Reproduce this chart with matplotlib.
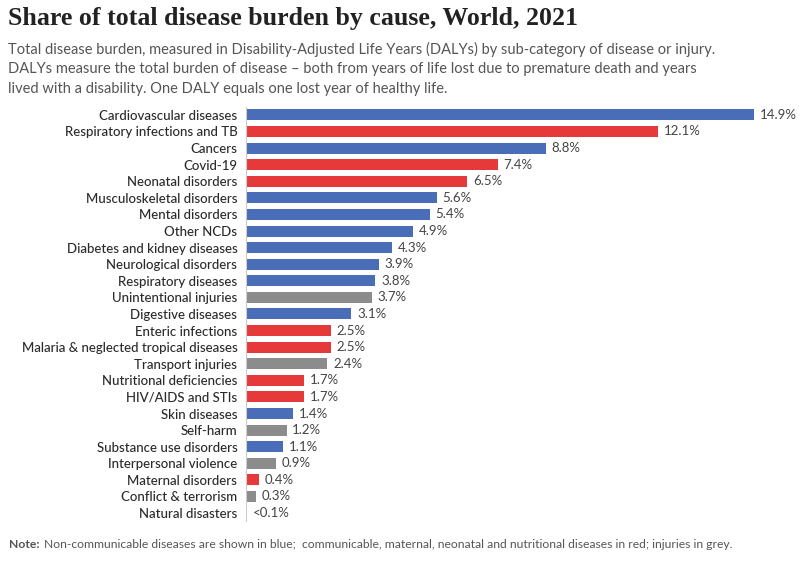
import matplotlib
matplotlib.use("Agg")
import matplotlib.pyplot as plt

causes = ["Cardiovascular diseases", "Respiratory infections and TB", "Cancers", "Covid-19",
          "Neonatal disorders", "Musculoskeletal disorders", "Mental disorders", "Other NCDs",
          "Diabetes and kidney diseases", "Neurological disorders", "Respiratory diseases",
          "Unintentional injuries", "Digestive diseases", "Enteric infections",
          "Malaria & neglected tropical diseases", "Transport injuries", "Nutritional deficiencies",
          "HIV/AIDS and STIs", "Skin diseases", "Self-harm", "Substance use disorders",
          "Interpersonal violence", "Maternal disorders", "Conflict & terrorism", "Natural disasters"]
shares = [14.9, 12.1, 8.8, 7.4, 6.5, 5.6, 5.4, 4.9, 4.3, 3.9, 3.8, 3.7, 3.1, 2.5, 2.5, 2.4,
          1.7, 1.7, 1.4, 1.2, 1.1, 0.9, 0.4, 0.3, 0.03]
labels = ["14.9%", "12.1%", "8.8%", "7.4%", "6.5%", "5.6%", "5.4%", "4.9%", "4.3%", "3.9%",
          "3.8%", "3.7%", "3.1%", "2.5%", "2.5%", "2.4%", "1.7%", "1.7%", "1.4%", "1.2%",
          "1.1%", "0.9%", "0.4%", "0.3%", "<0.1%"]
groups = ["ncd", "comm", "ncd", "comm", "comm", "ncd", "ncd", "ncd", "ncd", "ncd", "ncd", "inj",
          "ncd", "comm", "comm", "inj", "comm", "comm", "ncd", "inj", "ncd", "inj", "comm", "inj", "inj"]
palette = {"ncd": "#4A6DB8", "comm": "#E5393A", "inj": "#8C8C8C"}

plt.rcParams['font.family'] = ['Lato', 'DejaVu Sans']

fig = plt.figure(figsize=(8, 5.65), dpi=100)
ax = fig.add_axes([0.307, 0.0773, 0.693, 0.734])
ys = list(range(len(causes)))
ax.barh(ys, shares, height=0.66, color=[palette[g] for g in groups])
ax.set_ylim(len(causes) - 0.5, -0.5)
ax.set_xlim(0, 16.26)
ax.set_yticks(ys)
ax.set_yticklabels(causes, fontsize=9.5, color="#2b2b2b", fontweight="medium")
ax.tick_params(axis="y", length=0, pad=6)
ax.set_xticks([])
for s in ["top", "right", "bottom"]:
    ax.spines[s].set_visible(False)
ax.spines["left"].set_color("#cccccc")
ax.spines["left"].set_linewidth(0.8)
for y, v, t in zip(ys, shares, labels):
    ax.text(v + 0.17, y, t, va="center", ha="left", fontsize=9.5, color="#444444")

fig.text(0.01, 0.968, "Share of total disease burden by cause, World, 2021",
         family=["Liberation Serif", "DejaVu Serif"], fontweight="bold", fontsize=18.6,
         color="#222222", va="center")
fig.text(0.01, 0.926,
         "Total disease burden, measured in Disability-Adjusted Life Years (DALYs) by sub-category of disease or injury.\n"
         "DALYs measure the total burden of disease \u2013 both from years of life lost due to premature death and years\n"
         "lived with a disability. One DALY equals one lost year of healthy life.",
         fontsize=10.5, color="#555555", va="top", linespacing=1.5)

note_y = 1 - 545 / 565
t1 = fig.text(0.011, note_y, "Note:", fontsize=8.7, fontweight="bold", color="#555555", va="center")
fig.canvas.draw()
bb = t1.get_window_extent()
x2 = (bb.x1 + 5) / fig.bbox.width
fig.text(x2, note_y, "Non-communicable diseases are shown in blue;  communicable, maternal, neonatal and nutritional diseases in red; injuries in grey.",
         fontsize=8.7, color="#555555", va="center")
fig.savefig("out.png", dpi=100, facecolor="white")
